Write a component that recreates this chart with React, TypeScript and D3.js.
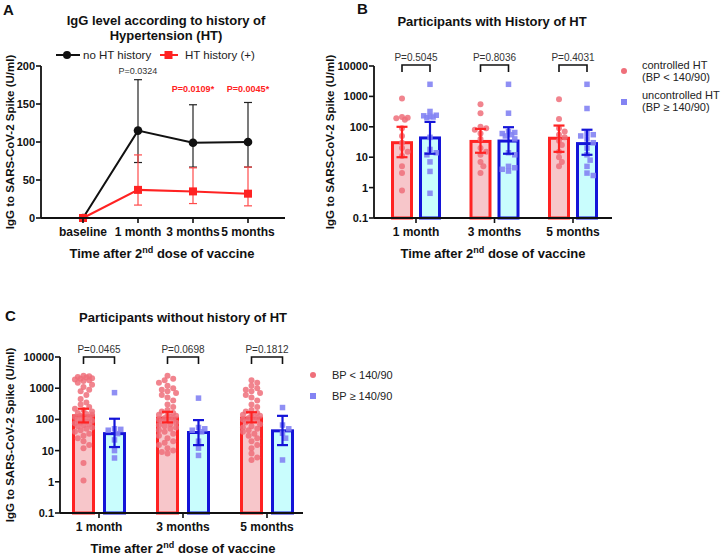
import React from 'react';
import * as d3 from 'd3';

// ---------- Panel A data ----------
const timepointsA = ['baseline', '1 month', '3 months', '5 months'];
const noHTMean = [0, 115, 99, 100];
const noHTUpper = [0, 182, 149, 152];
const noHTLower = [0, 73, 67, 67];
const htMean = [0, 37, 35, 32];
const htUpper = [0, 83, 66, 67];
const htLower = [0, 17, 19, 16];
const pLabelsA = ['', 'P=0.0324', 'P=0.0109*', 'P=0.0045*'];
const pSigA = [false, false, true, true];
const yTicksA = [0, 50, 100, 150, 200];

// ---------- Shared ----------
const months = ['1 month', '3 months', '5 months'];
const logTicks = [0.1, 1, 10, 100, 1000, 10000];

// ---------- Panel B data ----------
const bRedGM = [30, 33, 42];
const bRedLo = [10, 14, 15];
const bRedHi = [100, 85, 110];
const bBlueGM = [43, 34, 28];
const bBlueLo = [13, 13, 12];
const bBlueHi = [145, 97, 80];
const bP = ['P=0.5045', 'P=0.8036', 'P=0.4031'];
const bRed1 = [850, 210, 190, 170, 200, 90, 50, 30, 20, 15, 11, 5, 3, 0.8];
const bRed3 = [550, 280, 100, 90, 80, 60, 40, 20, 15, 12, 7, 5, 3];
const bRed5 = [800, 180, 90, 70, 55, 45, 35, 25, 15, 10, 7, 5];
const bBlue1 = [2500, 320, 240, 220, 230, 210, 200, 45, 18, 14, 12, 7, 3.4, 0.65];
const bBlue3 = [2500, 280, 60, 55, 65, 70, 50, 40, 14, 12, 5, 4.5, 4, 3.5];
const bBlue5 = [2500, 400, 60, 55, 50, 40, 30, 20, 12, 8, 5, 3, 2.5];

// ---------- Panel C data ----------
const cRedGM = [130, 110, 110];
const cRedLo = [80, 80, 80];
const cRedHi = [220, 175, 170];
const cBlueGM = [35, 38, 43];
const cBlueLo = [13, 15, 15];
const cBlueHi = [105, 95, 130];
const cP = ['P=0.0465', 'P=0.0698', 'P=0.1812'];
const cRed1 = [2500, 2400, 2300, 2200, 2100, 2000, 1900, 1800, 1700, 1500, 1300, 1100, 900, 800, 600, 450, 350, 300, 250, 220, 200, 180, 160, 150, 140, 130, 120, 110, 100, 95, 90, 85, 80, 75, 70, 65, 60, 55, 50, 45, 40, 35, 30, 25, 20, 15, 12, 4, 1.1];
const cRed3 = [2500, 2000, 1800, 1500, 1200, 1000, 900, 800, 700, 600, 500, 400, 300, 250, 200, 180, 160, 150, 140, 130, 120, 110, 100, 95, 90, 85, 80, 70, 65, 60, 55, 50, 45, 40, 35, 30, 25, 20, 18, 15, 12, 10, 9, 8];
const cRed5 = [1800, 1500, 1200, 1000, 900, 800, 700, 600, 500, 400, 300, 250, 200, 180, 160, 150, 140, 130, 120, 110, 100, 95, 90, 80, 70, 60, 55, 50, 45, 40, 35, 30, 25, 20, 15, 12, 8, 6, 5];
const cBlue1 = [720, 50, 48, 45, 35, 22, 10, 5.8];
const cBlue3 = [480, 55, 50, 45, 40, 20, 12, 7];
const cBlue5 = [240, 66, 50, 36, 25, 5];

const FONT = 'Liberation Sans, Arial, Helvetica, sans-serif';
const RED = '#ff2222';
const BLUE = '#1414d8';
const RED_FILL = '#f7c6ca';
const BLUE_FILL = '#c9fdfd';
const RED_DOT = '#ef6f7a';
const BLUE_DOT = '#8383f3';

function swarm(values: number[], y: (v: number) => number, cx: number, r: number, maxHalf: number) {
  const placed: { x: number; y: number }[] = [];
  const sorted = [...values].sort((a, b) => b - a);
  const cand: number[] = [0];
  for (let k = 1; k < 20; k++) cand.push(k * r * 0.95, -k * r * 0.95);
  return sorted.map((v) => {
    const py = y(v);
    let best = 0;
    let bestD = -1;
    for (const dx of cand) {
      if (Math.abs(dx) > maxHalf) continue;
      const md = placed.length ? Math.min(...placed.map((p) => Math.hypot(p.x - (cx + dx), p.y - py))) : 99;
      if (md >= r * 1.7) { best = dx; bestD = md; break; }
      if (md > bestD) { bestD = md; best = dx; }
    }
    const pt = { x: cx + best, y: py };
    placed.push(pt);
    return pt;
  });
}

function fmtLog(v: number) {
  return v < 1 ? '0.1' : String(v);
}

type BarPanelProps = {
  axisX0: number; axisX1: number; yTop: number; yBot: number;
  c0: number; c2: number; off: number; bw: number;
  redGM: number[]; redLo: number[]; redHi: number[];
  blueGM: number[]; blueLo: number[]; blueHi: number[];
  reds: number[][]; blues: number[][]; pLabels: string[];
  bracketTop: number; bracketBot: number; pBase: number;
  xLabelY: number; xTitleY: number; xTitleX: number; yTitleX: number;
};

function BarPanel(p: BarPanelProps) {
  const y = d3.scaleLog().domain([0.1, 10000]).range([p.yBot, p.yTop]);
  const x = d3.scalePoint<string>().domain(months).range([p.c0, p.c2]);
  const r = 3;
  const sq = 5.5;
  const yMid = (p.yTop + p.yBot) / 2;
  return (
    <g fontFamily={FONT}>
      {months.map((m, i) => {
        const cx = x(m)!;
        const rx = cx - p.off;
        const bx = cx + p.off;
        const redPts = swarm(p.reds[i], y, rx, r, p.bw / 2 - 1);
        const bluePts = swarm(p.blues[i], y, bx, r + 0.3, p.bw / 2 - 1);
        return (
          <g key={m}>
            <rect x={rx - p.bw / 2} y={y(p.redGM[i])} width={p.bw} height={p.yBot - y(p.redGM[i])} fill={RED_FILL} stroke={RED} strokeWidth={3} />
            <rect x={bx - p.bw / 2} y={y(p.blueGM[i])} width={p.bw} height={p.yBot - y(p.blueGM[i])} fill={BLUE_FILL} stroke={BLUE} strokeWidth={3} />
            {redPts.map((pt, j) => (
              <circle key={'r' + j} cx={pt.x} cy={pt.y} r={r} fill={RED_DOT} fillOpacity={0.85} />
            ))}
            {bluePts.map((pt, j) => (
              <rect key={'b' + j} x={pt.x - sq / 2} y={pt.y - sq / 2} width={sq} height={sq} fill={BLUE_DOT} fillOpacity={0.9} />
            ))}
            {[
              { cxx: rx, lo: p.redLo[i], hi: p.redHi[i], col: RED },
              { cxx: bx, lo: p.blueLo[i], hi: p.blueHi[i], col: BLUE },
            ].map((e, k) => (
              <g key={'e' + k} stroke={e.col} strokeWidth={2.2}>
                <line x1={e.cxx} x2={e.cxx} y1={y(e.hi)} y2={y(e.lo)} />
                <line x1={e.cxx - 5.5} x2={e.cxx + 5.5} y1={y(e.hi)} y2={y(e.hi)} />
                <line x1={e.cxx - 5.5} x2={e.cxx + 5.5} y1={y(e.lo)} y2={y(e.lo)} />
              </g>
            ))}
            <path d={`M${rx},${p.bracketBot}V${p.bracketTop}H${bx}V${p.bracketBot}`} fill="none" stroke="#111" strokeWidth={1.6} />
            <text x={cx} y={p.pBase} textAnchor="middle" fontSize={10} fill="#333">{p.pLabels[i]}</text>
            <line x1={cx} x2={cx} y1={p.yBot} y2={p.yBot + 5} stroke="#111" strokeWidth={1.6} />
            <text x={cx} y={p.xLabelY} textAnchor="middle" fontSize={12} fontWeight="bold" fill="#111">{m}</text>
          </g>
        );
      })}
      {/* axes */}
      <line x1={p.axisX0} x2={p.axisX0} y1={p.yTop} y2={p.yBot} stroke="#111" strokeWidth={1.8} />
      <line x1={p.axisX0} x2={p.axisX1} y1={p.yBot} y2={p.yBot} stroke="#111" strokeWidth={1.8} />
      {logTicks.map((t) => (
        <g key={t}>
          <line x1={p.axisX0 - 5} x2={p.axisX0} y1={y(t)} y2={y(t)} stroke="#111" strokeWidth={1.6} />
          <text x={p.axisX0 - 6} y={y(t) + 4} textAnchor="end" fontSize={11} fontWeight="bold" fill="#111">{fmtLog(t)}</text>
        </g>
      ))}
      <text transform={`translate(${p.yTitleX},${yMid}) rotate(-90)`} textAnchor="middle" fontSize={11.5} fontWeight="bold" fill="#111">IgG to SARS-CoV-2 Spike (U/ml)</text>
      <text x={p.xTitleX} y={p.xTitleY} textAnchor="middle" fontSize={13} fontWeight="bold" fill="#111">
        Time after 2<tspan dy={-5} fontSize={9}>nd</tspan><tspan dy={5}> dose of vaccine</tspan>
      </text>
    </g>
  );
}

function PanelA() {
  const y = d3.scaleLinear().domain([0, 200]).range([218, 66]);
  const x = d3.scalePoint<string>().domain(timepointsA).range([83, 248]);
  const line = d3.line<number>().x((_, i) => x(timepointsA[i])!).y((d) => y(d));
  return (
    <g fontFamily={FONT}>
      <text x={3} y={15} fontSize={15} fontWeight="bold" fill="#111">A</text>
      <text x={166} y={24.5} textAnchor="middle" fontSize={13} fontWeight="bold" fill="#111">IgG level according to history of</text>
      <text x={166} y={40} textAnchor="middle" fontSize={13} fontWeight="bold" fill="#111">Hypertension (HT)</text>
      {/* legend */}
      <line x1={56} x2={80} y1={55} y2={55} stroke="#111" strokeWidth={2} />
      <circle cx={67} cy={55} r={4} fill="#111" />
      <text x={83} y={59} fontSize={11.5} fill="#222">no HT history</text>
      <line x1={160} x2={178} y1={55} y2={55} stroke={RED} strokeWidth={2} />
      <rect x={164.5} y={51} width={8} height={8} fill={RED} />
      <text x={185} y={59} fontSize={11.5} fill="#222">HT history (+)</text>
      {/* error bars */}
      {timepointsA.map((t, i) => i === 0 ? null : (
        <g key={t}>
          <g stroke="#222" strokeWidth={1.2}>
            <line x1={x(t)!} x2={x(t)!} y1={y(noHTUpper[i])} y2={y(noHTLower[i])} />
            <line x1={x(t)! - 4} x2={x(t)! + 4} y1={y(noHTUpper[i])} y2={y(noHTUpper[i])} />
            <line x1={x(t)! - 4} x2={x(t)! + 4} y1={y(noHTLower[i])} y2={y(noHTLower[i])} />
          </g>
          <g stroke="#ff4a4a" strokeWidth={1.2}>
            <line x1={x(t)!} x2={x(t)!} y1={y(htUpper[i])} y2={y(htLower[i])} />
            <line x1={x(t)! - 4} x2={x(t)! + 4} y1={y(htUpper[i])} y2={y(htUpper[i])} />
            <line x1={x(t)! - 4} x2={x(t)! + 4} y1={y(htLower[i])} y2={y(htLower[i])} />
          </g>
          <text x={x(t)!} y={pSigA[i] ? 92 : 74} textAnchor="middle" fontSize={9}
            fontWeight={pSigA[i] ? 'bold' : 'normal'} fill={pSigA[i] ? RED : '#333'}>{pLabelsA[i]}</text>
        </g>
      ))}
      <path d={line(noHTMean)!} fill="none" stroke="#111" strokeWidth={2} />
      <path d={line(htMean)!} fill="none" stroke={RED} strokeWidth={2} />
      {noHTMean.map((v, i) => (
        <circle key={'n' + i} cx={x(timepointsA[i])!} cy={y(v)} r={4.3} fill="#111" />
      ))}
      {htMean.map((v, i) => (
        <rect key={'h' + i} x={x(timepointsA[i])! - 4} y={y(v) - 4} width={8} height={8} fill={RED} />
      ))}
      {/* axes */}
      <line x1={41} x2={41} y1={66} y2={218} stroke="#111" strokeWidth={1.8} />
      <line x1={41} x2={285} y1={218} y2={218} stroke="#111" strokeWidth={1.8} />
      {yTicksA.map((t) => (
        <g key={t}>
          <line x1={36} x2={41} y1={y(t)} y2={y(t)} stroke="#111" strokeWidth={1.6} />
          <text x={35} y={y(t) + 4} textAnchor="end" fontSize={11} fontWeight="bold" fill="#111">{t}</text>
        </g>
      ))}
      {timepointsA.map((t) => (
        <g key={t}>
          <line x1={x(t)!} x2={x(t)!} y1={218} y2={223} stroke="#111" strokeWidth={1.6} />
          <text x={x(t)!} y={236} textAnchor="middle" fontSize={12} fontWeight="bold" fill="#111">{t}</text>
        </g>
      ))}
      <text transform="translate(14,142) rotate(-90)" textAnchor="middle" fontSize={11.5} fontWeight="bold" fill="#111">IgG to SARS-CoV-2 Spike (U/ml)</text>
      <text x={162} y={258} textAnchor="middle" fontSize={13} fontWeight="bold" fill="#111">
        Time after 2<tspan dy={-5} fontSize={9}>nd</tspan><tspan dy={5}> dose of vaccine</tspan>
      </text>
    </g>
  );
}

export default function App() {
  return (
    <div style={{ position: 'absolute', left: 0, top: 0 }}>
      <svg width={721} height={555} style={{ display: 'block', background: '#fff' }}>
        <rect width={721} height={555} fill="#fff" />
        <PanelA />
        {/* Panel B */}
        <text x={357} y={14} fontSize={15} fontWeight="bold" fill="#111" fontFamily={FONT}>B</text>
        <text x={492} y={26} textAnchor="middle" fontSize={13} fontWeight="bold" fill="#111" fontFamily={FONT}>Participants with History of HT</text>
        <BarPanel axisX0={374} axisX1={612} yTop={66} yBot={218} c0={416} c2={573} off={14} bw={19}
          redGM={bRedGM} redLo={bRedLo} redHi={bRedHi} blueGM={bBlueGM} blueLo={bBlueLo} blueHi={bBlueHi}
          reds={[bRed1, bRed3, bRed5]} blues={[bBlue1, bBlue3, bBlue5]} pLabels={bP}
          bracketTop={65} bracketBot={72} pBase={61} xLabelY={236} xTitleY={258} xTitleX={493} yTitleX={334} />
        <g fontFamily={FONT} fontSize={11} fill="#222">
          <circle cx={624} cy={71} r={3} fill={RED_DOT} />
          <text x={642} y={69}>controlled HT</text>
          <text x={642} y={81}>(BP &lt; 140/90)</text>
          <rect x={621} y={99} width={6} height={6} fill={BLUE_DOT} />
          <text x={642} y={99}>uncontrolled HT</text>
          <text x={642} y={111}>(BP ≥ 140/90)</text>
        </g>
        {/* Panel C */}
        <text x={5} y={321} fontSize={15} fontWeight="bold" fill="#111" fontFamily={FONT}>C</text>
        <text x={183} y={322} textAnchor="middle" fontSize={13} fontWeight="bold" fill="#111" fontFamily={FONT}>Participants without history of HT</text>
        <BarPanel axisX0={60} axisX1={303} yTop={357} yBot={513} c0={99} c2={267} off={15.5} bw={20}
          redGM={cRedGM} redLo={cRedLo} redHi={cRedHi} blueGM={cBlueGM} blueLo={cBlueLo} blueHi={cBlueHi}
          reds={[cRed1, cRed3, cRed5]} blues={[cBlue1, cBlue3, cBlue5]} pLabels={cP}
          bracketTop={357} bracketBot={364} pBase={353} xLabelY={531} xTitleY={553} xTitleX={183} yTitleX={14} />
        <g fontFamily={FONT} fontSize={11} fill="#222">
          <circle cx={313} cy={375} r={3} fill={RED_DOT} />
          <text x={332} y={379}>BP &lt; 140/90</text>
          <rect x={310} y={393} width={6} height={6} fill={BLUE_DOT} />
          <text x={332} y={400}>BP ≥ 140/90</text>
        </g>
      </svg>
    </div>
  );
}
